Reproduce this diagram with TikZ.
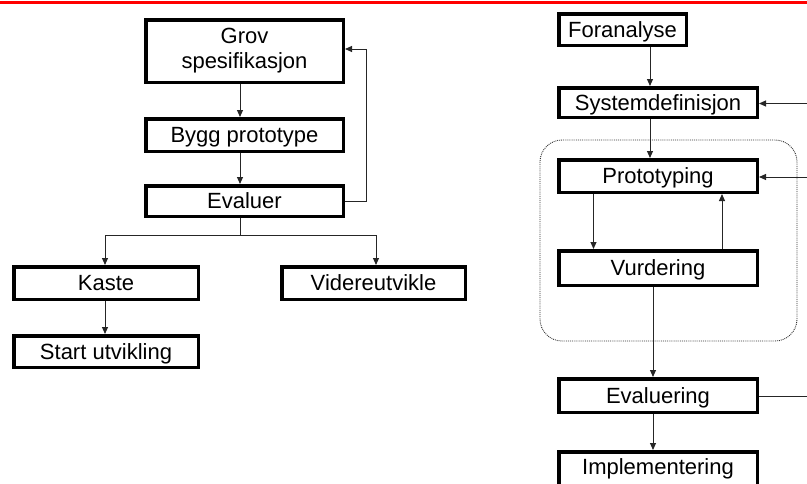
\documentclass[tikz,border=0pt]{standalone}
\usepackage{fontspec}
\setmainfont{Liberation Sans}
\usetikzlibrary{arrows.meta,calc}
\begin{document}
\begin{tikzpicture}[x=1pt,y=-1pt,
  box/.style={draw=black,line width=3.5pt,inner sep=0pt,align=center,
    font=\fontsize{22}{25}\selectfont},
  one/.style={box,text height=15.8pt,text depth=0pt},
  conn/.style={line width=1pt,draw=black!85},
  arr/.style={conn,-{Triangle[length=7pt,width=6pt]}}]
\useasboundingbox (0,0) rectangle (807,483);
\clip (0,0) rectangle (807,483);
\draw[red,line width=2.5pt] (0,2.5) -- (807,2.5);
% left diagram
\node[box,minimum width=197.5,minimum height=62.5] (grov) at (244.5,51) {Grov\\spesifikasjon};
\node[one,minimum width=197.5,minimum height=32.5] (bygg) at (244.5,135) {Bygg prototype};
\node[one,minimum width=197.5,minimum height=30.5] (evaluer) at (244.5,201) {Evaluer};
\node[one,minimum width=184.5,minimum height=32.5] (kaste) at (106,283) {Kaste};
\node[one,minimum width=183.5,minimum height=32.5] (vid) at (373.5,283) {Videreutvikle};
\node[one,minimum width=184.5,minimum height=31.5] (start) at (106,351.5) {Start utvikling};
\coordinate (split) at (240,235);
\coordinate (fb) at (366,201);
\draw[arr] ([xshift=-4.5]grov.south) -- ([xshift=-4.5]bygg.north);
\draw[arr] ([xshift=-4.5]bygg.south) -- ([xshift=-4.5]evaluer.north);
\draw[conn] ([xshift=-4.5]evaluer.south) -- (split);
\draw[arr] (split) -| ([xshift=-1]kaste.north);
\draw[arr] (split) -| ([xshift=2.5]vid.north);
\draw[arr] ([xshift=-1]kaste.south) -- ([xshift=-1]start.north);
\draw[arr] (evaluer.east |- fb) -- (fb) |- ([yshift=2]grov.east);
% right diagram
\draw[line width=0.9pt,densely dotted,draw=black!80,rounded corners=22] (540,140) rectangle (797,341);
\node[one,minimum width=127.5,minimum height=31.5] (for) at (622.5,29.5) {Foranalyse};
\node[one,minimum width=198.5,minimum height=29.5] (sys) at (658,102.5) {Systemdefinisjon};
\node[one,minimum width=198.5,minimum height=32.5] (proto) at (658,176) {Prototyping};
\node[one,minimum width=198.5,minimum height=34.5] (vurd) at (658,268) {Vurdering};
\node[one,minimum width=198.5,minimum height=33.5] (eval) at (658,395.5) {Evaluering};
\node[one,text depth=6pt,minimum width=198.5,minimum height=36.5] (impl) at (658,470) {Implementering};
\coordinate (in1) at (807,103.5);
\coordinate (in2) at (807,177);
\coordinate (out1) at (807,396);
\draw[arr] ([xshift=-8]sys.north |- for.south) -- ([xshift=-8]sys.north);
\draw[arr] ([xshift=-8]sys.south) -- ([xshift=-8]proto.north);
\draw[arr] (in1) -- (in1 -| sys.east);
\draw[arr] (in2) -- (in2 -| proto.east);
\draw[arr] ([xshift=-64.5]proto.south) -- ([xshift=-64.5]vurd.north);
\draw[arr] ([xshift=64]vurd.north) -- ([xshift=64]proto.south);
\draw[arr] ([xshift=-5]vurd.south) -- ([xshift=-5]eval.north);
\draw[arr] ([xshift=-5]eval.south) -- ([xshift=-5]impl.north);
\draw[conn] (eval.east |- out1) -- (out1);
\end{tikzpicture}
\end{document}
